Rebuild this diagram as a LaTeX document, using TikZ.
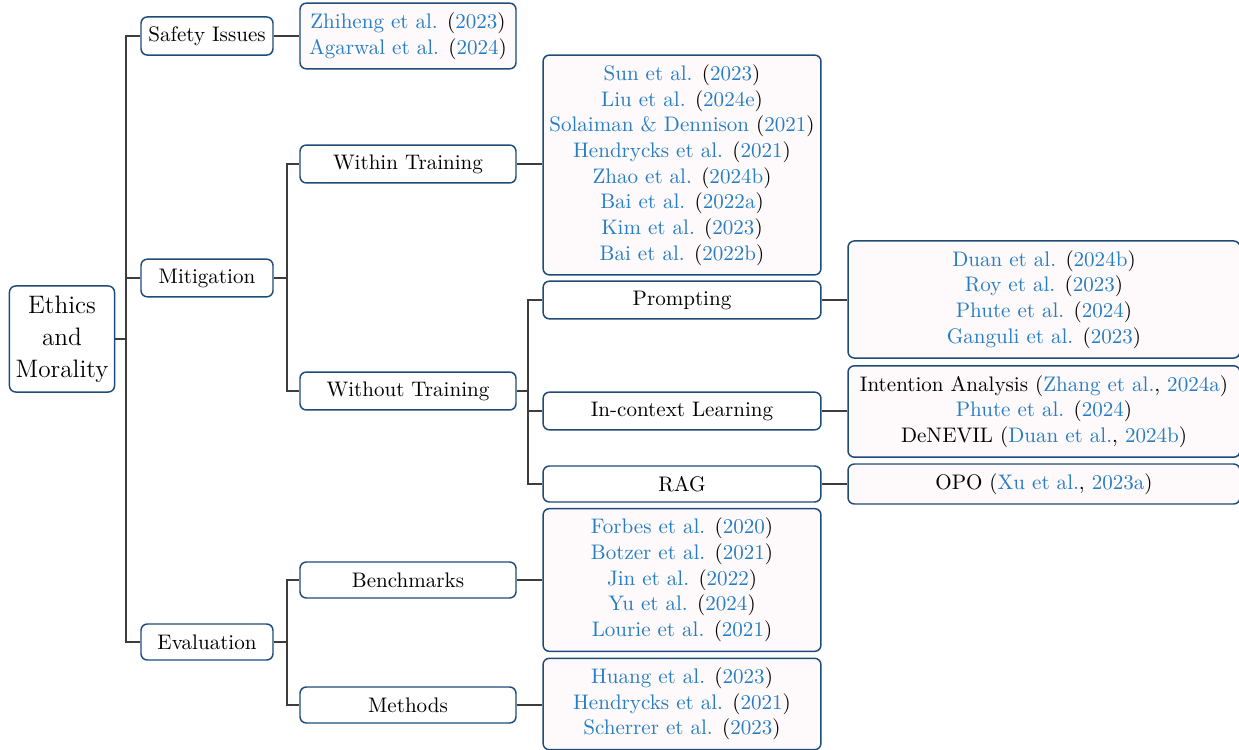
\documentclass[tikz,border=0pt]{standalone}
\usepackage{tikz}
\usetikzlibrary{positioning}
\definecolor{box_c}{rgb}{0.122, 0.294, 0.478}
\definecolor{cite_c}{rgb}{0.145, 0.49, 0.769}
\definecolor{leaf_c}{rgb}{0.996, 0.976, 0.980}
\definecolor{line_c}{rgb}{0.24, 0.24, 0.24}
% citation helpers
\newcommand{\rt}[2]{{\color{cite_c}#1} ({\color{cite_c}#2})}
\newcommand{\rp}[2]{({\color{cite_c}#1}, {\color{cite_c}#2})}

\begin{document}
\begin{tikzpicture}[
			x=0.475pt, y=-0.475pt,
			base/.style = {draw=box_c, line width=0.7pt, rounded corners=3pt, align=center, inner ysep=4.5pt, inner xsep=2pt, font=\fontsize{10}{12.2}\selectfont},
			rootbox/.style = {base, fill=white, minimum width=49.9pt, minimum height=50.4pt, font=\fontsize{12}{15.2}\selectfont},
			cat/.style = {base, fill=white, minimum width=62.7pt, minimum height=17.1pt},
			sub/.style = {base, fill=white, minimum width=102.6pt, minimum height=17.1pt},
			meth/.style = {base, fill=white, minimum width=132pt, minimum height=17.1pt},
			leafa/.style = {base, fill=leaf_c, minimum width=102.6pt},
			leafb/.style = {base, fill=leaf_c, minimum width=132pt},
			leafc/.style = {base, fill=leaf_c, minimum width=186.2pt},
			link/.style = {draw=line_c, line width=0.8pt},
			]
			\useasboundingbox (0,0) rectangle (1239,750);
			% root and first level
			\node[rootbox] (root) at (62,339) {Ethics\\and\\Morality};
			\node[cat] (safety) at (207,36) {Safety Issues};
			\node[cat] (mitig) at (207,278) {Mitigation};
			\node[cat] (evalu) at (207,642) {Evaluation};
			% second level
			\node[leafa] (safelf) at (408,36) {\rt{Zhiheng et al.}{2023}\\\rt{Agarwal et al.}{2024}};
			\node[sub] (within) at (408,164) {Within Training};
			\node[sub] (without) at (408,391) {Without Training};
			\node[sub] (bench) at (408,580) {Benchmarks};
			\node[sub] (methods) at (408,705) {Methods};
			% third level
			\node[leafb] (withlf) at (682,165) {\rt{Sun et al.}{2023}\\\rt{Liu et al.}{2024e}\\\rt{Solaiman \& Dennison}{2021}\\\rt{Hendrycks et al.}{2021}\\\rt{Zhao et al.}{2024b}\\\rt{Bai et al.}{2022a}\\\rt{Kim et al.}{2023}\\\rt{Bai et al.}{2022b}};
			\node[meth] (prompt) at (682,300) {Prompting};
			\node[meth] (icl) at (682,411) {In-context Learning};
			\node[meth] (rag) at (682,484) {RAG};
			\node[leafb] (benchlf) at (682,580) {\rt{Forbes et al.}{2020}\\\rt{Botzer et al.}{2021}\\\rt{Jin et al.}{2022}\\\rt{Yu et al.}{2024}\\\rt{Lourie et al.}{2021}};
			\node[leafb] (methlf) at (682,704) {\rt{Huang et al.}{2023}\\\rt{Hendrycks et al.}{2021}\\\rt{Scherrer et al.}{2023}};
			% fourth level
			\node[leafc] (promptlf) at (1044,299.5) {\rt{Duan et al.}{2024b}\\\rt{Roy et al.}{2023}\\\rt{Phute et al.}{2024}\\\rt{Ganguli et al.}{2023}};
			\node[leafc] (icllf) at (1044,411.5) {Intention Analysis \rp{Zhang et al.}{2024a}\\\rt{Phute et al.}{2024}\\DeNEVIL \rp{Duan et al.}{2024b}};
			\node[leafc] (raglf) at (1044,484) {OPO \rp{Xu et al.}{2023a}};
			% forked edges
			\foreach \c in {safety, mitig, evalu}
				\draw[link] (root.east) -- ++(11,0) |- (\c.west);
			\foreach \c in {within, without}
				\draw[link] (mitig.east) -- ++(13,0) |- (\c.west);
			\foreach \c in {bench, methods}
				\draw[link] (evalu.east) -- ++(13,0) |- (\c.west);
			\foreach \c in {prompt, icl, rag}
				\draw[link] (without.east) -- ++(11,0) |- (\c.west);
			% single edges
			\draw[link] (safety.east) -- (safety.east -| safelf.west);
			\draw[link] (within.east) -- (within.east -| withlf.west);
			\draw[link] (bench.east) -- (bench.east -| benchlf.west);
			\draw[link] (methods.east) -- (methods.east -| methlf.west);
			\draw[link] (prompt.east) -- (prompt.east -| promptlf.west);
			\draw[link] (icl.east) -- (icl.east -| icllf.west);
			\draw[link] (rag.east) -- (rag.east -| raglf.west);
		\end{tikzpicture}
\end{document}
